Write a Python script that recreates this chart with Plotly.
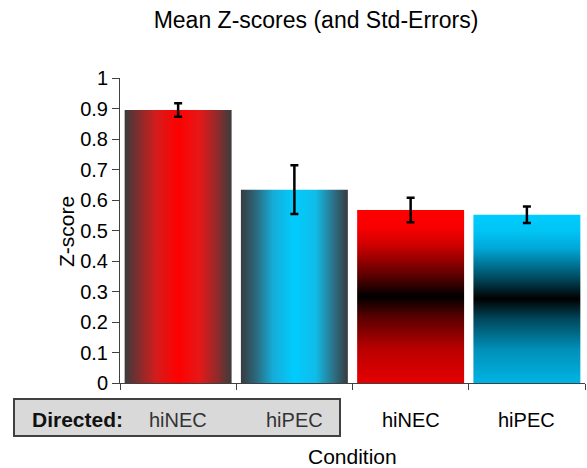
import plotly.graph_objects as go

conditions = ["hiNEC", "hiPEC", "hiNEC", "hiPEC"]
directed = [True, True, False, False]
mean_z = [0.895, 0.634, 0.567, 0.552]
std_err = [0.022, 0.080, 0.040, 0.027]
y_ticks = [0, 0.1, 0.2, 0.3, 0.4, 0.5, 0.6, 0.7, 0.8, 0.9, 1]
y_tick_text = ["0", "0.1", "0.2", "0.3", "0.4", "0.5", "0.6", "0.7", "0.8", "0.9", "1"]

FONT = "Liberation Sans, Arial, sans-serif"
HALF = 0.46

red_h = [[0, "#3c3c3c"], [0.15, "#8c2a2a"], [0.3, "#d61c1c"], [0.5, "#ff0000"],
         [0.7, "#e61818"], [0.85, "#9a2828"], [1, "#3c3c3c"]]
blue_h = [[0, "#363b40"], [0.15, "#2a6c82"], [0.3, "#16acd8"], [0.5, "#00ccff"],
          [0.7, "#10bce8"], [0.85, "#2a7890"], [1, "#363b40"]]
red_v = [[0, "#e60000"], [0.2, "#b80000"], [0.38, "#5a0000"], [0.5, "#000000"],
         [0.62, "#5a0000"], [0.8, "#d00000"], [0.9, "#f80000"], [1, "#ff0000"]]
blue_v = [[0, "#00b4e4"], [0.2, "#0090b8"], [0.38, "#00485c"], [0.5, "#000000"],
          [0.62, "#00485c"], [0.8, "#00a8d8"], [0.9, "#00c4f4"], [1, "#00ccff"]]
gradients = [("horizontal", red_h), ("horizontal", blue_h),
             ("vertical", red_v), ("vertical", blue_v)]

fig = go.Figure()
for i, v in enumerate(mean_z):
    gtype, cs = gradients[i]
    fig.add_trace(go.Scatter(
        x=[i - HALF, i + HALF, i + HALF, i - HALF, i - HALF],
        y=[0, 0, v, v, 0],
        mode="lines", fill="toself", line=dict(width=0),
        fillgradient=dict(type=gtype, colorscale=cs),
        hoverinfo="skip", showlegend=False,
    ))

fig.add_trace(go.Scatter(
    x=list(range(len(mean_z))), y=mean_z, mode="markers",
    marker=dict(color="rgba(0,0,0,0)", size=1),
    error_y=dict(type="data", array=std_err, visible=True,
                 color="black", thickness=2.5, width=4),
    showlegend=False,
))

# box with "Directed:" group label
fig.add_shape(type="rect", xref="paper", yref="paper",
              x0=(14 - 120) / 465, x1=(340 - 120) / 465,
              y0=(383 - 399) / 305, y1=(383 - 436) / 305,
              fillcolor="#d9d9d9", line=dict(color="#404040", width=2), layer="above")

ann = []
ann.append(dict(text="<b>Directed:</b>", xref="paper", yref="paper",
                x=(77 - 120) / 465, y=(383 - 419) / 305, showarrow=False,
                font=dict(family=FONT, size=21, color="#111111"),
                xanchor="center", yanchor="middle"))
for i, c in enumerate(conditions):
    ann.append(dict(text=c, xref="x", yref="paper", x=i, y=(383 - 420) / 305,
                    showarrow=False, xanchor="center", yanchor="middle",
                    font=dict(family=FONT, size=20,
                              color="#333333" if directed[i] else "#000000")))
ann.append(dict(text="Condition", xref="paper", yref="paper",
                x=(352 - 120) / 465, y=(383 - 456) / 305, showarrow=False,
                xanchor="center", yanchor="middle",
                font=dict(family=FONT, size=21, color="#000000")))
ann.append(dict(text="Z-score", xref="paper", yref="paper",
                x=(67 - 120) / 465, y=(383 - 232) / 305, showarrow=False,
                textangle=-90, xanchor="center", yanchor="middle",
                font=dict(family=FONT, size=21, color="#000000")))

fig.update_layout(
    width=587, height=468,
    margin=dict(l=120, r=2, t=78, b=85),
    paper_bgcolor="white", plot_bgcolor="white",
    title=dict(text="Mean Z-scores (and Std-Errors)", x=316 / 587, xanchor="center",
               y=1 - 20 / 468, yanchor="middle",
               font=dict(family=FONT, size=23, color="#000000")),
    annotations=ann,
    xaxis=dict(range=[-0.5, 3.5], tickvals=[-0.5, 0.5, 1.5, 2.5, 3.5],
               showticklabels=False, ticks="outside", ticklen=6, tickcolor="#404040",
               showline=True, linecolor="#404040", linewidth=1,
               showgrid=False, zeroline=False, fixedrange=True),
    yaxis=dict(range=[0, 1], tickvals=y_ticks, ticktext=y_tick_text,
               ticks="outside", ticklen=7, tickcolor="#404040",
               showline=True, linecolor="#404040", linewidth=1,
               showgrid=False, zeroline=False,
               tickfont=dict(family=FONT, size=20, color="#000000")),
)

fig.write_html("out.html", config={"displayModeBar": False},
               post_script="document.body.style.margin='0';document.body.style.overflow='hidden';")
